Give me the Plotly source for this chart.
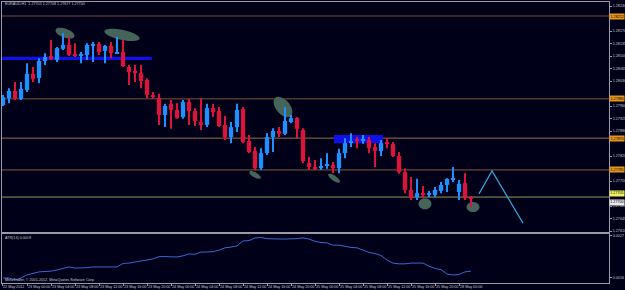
import math
import plotly.graph_objects as go

SYMBOL = "EURAUD,H1"

opens = [1.27963, 1.27982, 1.28002, 1.27980, 1.28005, 1.28050, 1.28038, 1.28086, 1.28100, 1.28089,
         1.28120, 1.28131, 1.28106, 1.28100, 1.28103, 1.28128, 1.28134, 1.28114, 1.28128, 1.28108,
         1.28111, 1.28069, 1.28058, 1.28052, 1.28033, 1.27991, 1.27982, 1.27935, 1.27966, 1.27949,
         1.27929, 1.27971, 1.27946, 1.27915, 1.27907, 1.27954, 1.27946, 1.27907, 1.27873, 1.27901,
         1.27952, 1.27862, 1.27834, 1.27786, 1.27828, 1.27873, 1.27890, 1.27882, 1.27915, 1.27926,
         1.27893, 1.27800, 1.27789, 1.27786, 1.27792, 1.27795, 1.27786, 1.27828, 1.27859, 1.27865,
         1.27862, 1.27865, 1.27845, 1.27834, 1.27859, 1.27854, 1.27820, 1.27775, 1.27725, 1.27705,
         1.27714, 1.27711, 1.27711, 1.27722, 1.27739, 1.27753, 1.27719, 1.27744, 1.27705]
highs = [1.27991, 1.28010, 1.28027, 1.28027, 1.28080, 1.28069, 1.28094, 1.28108, 1.28145, 1.28125,
         1.28164, 1.28153, 1.28136, 1.28111, 1.28136, 1.28139, 1.28139, 1.28131, 1.28139, 1.28153,
         1.28145, 1.28075, 1.28075, 1.28075, 1.28038, 1.27999, 1.27994, 1.27966, 1.27977, 1.27968,
         1.27977, 1.27980, 1.27954, 1.27982, 1.27966, 1.27966, 1.27957, 1.27932, 1.27915, 1.27966,
         1.27957, 1.27879, 1.27845, 1.27842, 1.27884, 1.27898, 1.27901, 1.27957, 1.27935, 1.27929,
         1.27898, 1.27817, 1.27809, 1.27814, 1.27828, 1.27803, 1.27840, 1.27870, 1.27884, 1.27873,
         1.27879, 1.27873, 1.27856, 1.27865, 1.27870, 1.27859, 1.27831, 1.27786, 1.27761, 1.27756,
         1.27736, 1.27722, 1.27733, 1.27747, 1.27758, 1.27789, 1.27753, 1.27772, 1.27708]
lows = [1.27960, 1.27968, 1.27977, 1.27977, 1.27999, 1.28027, 1.28024, 1.28075, 1.28089, 1.28083,
        1.28117, 1.28100, 1.28097, 1.28080, 1.28089, 1.28083, 1.28103, 1.28080, 1.28094, 1.28106,
        1.28069, 1.28019, 1.28027, 1.28010, 1.27982, 1.27980, 1.27907, 1.27901, 1.27896, 1.27924,
        1.27924, 1.27907, 1.27904, 1.27893, 1.27901, 1.27929, 1.27901, 1.27865, 1.27856, 1.27887,
        1.27856, 1.27828, 1.27781, 1.27781, 1.27823, 1.27831, 1.27873, 1.27879, 1.27912, 1.27870,
        1.27800, 1.27781, 1.27781, 1.27781, 1.27784, 1.27772, 1.27772, 1.27814, 1.27845, 1.27842,
        1.27854, 1.27828, 1.27789, 1.27820, 1.27842, 1.27817, 1.27770, 1.27716, 1.27697, 1.27697,
        1.27702, 1.27705, 1.27705, 1.27716, 1.27719, 1.27747, 1.27697, 1.27697, 1.27677]
closes = [1.27985, 1.28002, 1.27980, 1.28008, 1.28050, 1.28036, 1.28086, 1.28097, 1.28092, 1.28122,
          1.28131, 1.28103, 1.28100, 1.28106, 1.28131, 1.28134, 1.28111, 1.28128, 1.28108, 1.28111,
          1.28072, 1.28055, 1.28052, 1.28030, 1.27991, 1.27985, 1.27935, 1.27960, 1.27949, 1.27926,
          1.27971, 1.27946, 1.27918, 1.27907, 1.27954, 1.27943, 1.27904, 1.27873, 1.27901, 1.27949,
          1.27859, 1.27831, 1.27786, 1.27828, 1.27873, 1.27890, 1.27882, 1.27918, 1.27926, 1.27896,
          1.27806, 1.27789, 1.27786, 1.27792, 1.27795, 1.27786, 1.27828, 1.27856, 1.27862, 1.27862,
          1.27868, 1.27842, 1.27834, 1.27856, 1.27854, 1.27820, 1.27775, 1.27725, 1.27702, 1.27716,
          1.27711, 1.27716, 1.27725, 1.27739, 1.27756, 1.27758, 1.27742, 1.27702, 1.27700]
atr = [0.00160, 0.00160, 0.00155, 0.00160, 0.00168, 0.00173, 0.00176, 0.00177, 0.00178, 0.00181,
       0.00186, 0.00189, 0.00186, 0.00186, 0.00187, 0.00189, 0.00189, 0.00189, 0.00189, 0.00189,
       0.00198, 0.00199, 0.00202, 0.00204, 0.00207, 0.00210, 0.00216, 0.00216, 0.00216, 0.00215,
       0.00218, 0.00223, 0.00222, 0.00228, 0.00228, 0.00229, 0.00233, 0.00239, 0.00241, 0.00244,
       0.00257, 0.00258, 0.00265, 0.00266, 0.00263, 0.00262, 0.00262, 0.00262, 0.00262, 0.00263,
       0.00265, 0.00262, 0.00256, 0.00253, 0.00252, 0.00246, 0.00246, 0.00242, 0.00240, 0.00239,
       0.00233, 0.00227, 0.00224, 0.00219, 0.00207, 0.00199, 0.00197, 0.00197, 0.00199, 0.00199,
       0.00199, 0.00191, 0.00185, 0.00182, 0.00170, 0.00168, 0.00169, 0.00176, 0.00178]

time_tick_pos = [-0.17, 4, 8, 12, 16, 20, 24, 28, 32, 36, 40, 44, 48, 52, 56, 60, 64, 68, 72, 76]
time_tick_text = ["22 May 2012", "23 May 00:00", "23 May 04:00", "23 May 08:00", "23 May 12:00",
                  "23 May 16:00", "23 May 20:00", "24 May 00:00", "24 May 04:00", "24 May 08:00",
                  "24 May 12:00", "24 May 16:00", "24 May 20:00", "25 May 00:00", "25 May 04:00",
                  "25 May 08:00", "25 May 12:00", "25 May 16:00", "25 May 20:00", "28 May 00:00"]
price_ticks = [1.28240, 1.28205, 1.28170, 1.28135, 1.28100, 1.28065, 1.28030, 1.27995, 1.27960,
               1.27925, 1.27890, 1.27855, 1.27820, 1.27785, 1.27750, 1.27715, 1.27680, 1.27645, 1.27610]
atr_ticks = [0.0016, 0.0027]

hline_levels = [1.28212, 1.27980, 1.27870, 1.27781]
user_line_level = 1.27705
zigzag_bar = [79.33, 81.5, 86.67]
zigzag_price = [1.27714, 1.27778, 1.27632]
rect_bars = [(-0.3, 24.8), (55.17, 63.33)]
rect_prices = [(1.28089, 1.28098), (1.27856, 1.27879)]
ellipse_centers = [(10.33, 1.28164), (19.83, 1.28159), (46.67, 1.27957), (42.0, 1.27767),
                   (55.17, 1.27758), (70.33, 1.27686), (78.33, 1.27677)]

# ---- styling / geometry ----
W, H = 625, 290
ML, MR, MT, MB = 2, 16, 2, 7
X_RANGE = [-0.17, 101.0]
Y_RANGE = [1.276072, 1.282512]
A_RANGE = [0.001469, 0.002752]
MAIN_DOM = [0.1815, 1.0]
IND_DOM = [0.0, 0.1744]
BG = "#000018"
BULL, BEAR = "#1e90ff", "#dc143c"
TXT = "#c8c8cc"
FONT = "Liberation Sans"
FS = 3.7

plot_w = W - ML - MR
plot_h = H - MT - MB
px_per_bar = plot_w / (X_RANGE[1] - X_RANGE[0])
price_per_px = (Y_RANGE[1] - Y_RANGE[0]) / (plot_h * (MAIN_DOM[1] - MAIN_DOM[0]))

ellipse_shapes_px = [(10, 4.5, 20), (18, 5, 12), (12, 7, 50), (6.5, 2.5, 30),
                     (7, 2.5, 35), (6.5, 5.5, 0), (6.5, 5, 0)]

# hide axis labels that would sit under the price-level boxes (as the terminal does)
boxed = hline_levels + [user_line_level, closes[-1]]
shown_ticks = [t for t in price_ticks
               if all(abs(t - b) / price_per_px > 5.5 for b in boxed)]

idx = list(range(len(opens)))
cols = [BULL if c >= o else BEAR for o, c in zip(opens, closes)]

fig = go.Figure()
fig.add_trace(go.Bar(x=idx, y=[h - l for h, l in zip(highs, lows)], base=lows, width=0.17,
                     marker=dict(color=cols, line=dict(width=0)), xaxis="x", yaxis="y",
                     hoverinfo="skip"))
fig.add_trace(go.Bar(x=idx, y=[c - o for o, c in zip(opens, closes)], base=opens, width=0.72,
                     marker=dict(color=cols, line=dict(width=0)), xaxis="x", yaxis="y",
                     hoverinfo="skip"))
fig.add_trace(go.Scatter(x=zigzag_bar, y=zigzag_price, mode="lines", xaxis="x", yaxis="y",
                         line=dict(color="#3aa8e0", width=1.2), hoverinfo="skip"))
fig.add_trace(go.Scatter(x=idx, y=atr, mode="lines", xaxis="x2", yaxis="y2",
                         line=dict(color="#3a68d0", width=1), hoverinfo="skip"))

shapes = []
for (x0, x1), (y0, y1) in zip(rect_bars, rect_prices):
    shapes.append(dict(type="rect", xref="x", yref="y", x0=x0, x1=x1, y0=y0, y1=y1,
                       fillcolor="#1010e8", line=dict(width=0), layer="below"))


def ellipse_path(cx, cy, a, b, ang, n=48):
    phi = math.radians(ang)
    pts = []
    for i in range(n):
        t = 2 * math.pi * i / n
        dx = a * math.cos(t) * math.cos(phi) - b * math.sin(t) * math.sin(phi)
        dy = a * math.cos(t) * math.sin(phi) + b * math.sin(t) * math.cos(phi)
        pts.append((cx + dx / px_per_bar, cy - dy * price_per_px))
    return "M " + " L ".join(f"{x:.4f},{y:.7f}" for x, y in pts) + " Z"


for (cx, cy), (a, b, ang) in zip(ellipse_centers, ellipse_shapes_px):
    shapes.append(dict(type="path", xref="x", yref="y", path=ellipse_path(cx, cy, a, b, ang),
                       fillcolor="#45645a", line=dict(width=0), layer="below"))

hcols = ["#7c4a3e", "#7e543c", "#94704c", "#8a5a3c"]
for lv, c in zip(hline_levels, hcols):
    shapes.append(dict(type="line", xref="paper", yref="y", x0=0, x1=1, y0=lv, y1=lv,
                       line=dict(color=c, width=1), layer="below"))
shapes.append(dict(type="line", xref="paper", yref="y", x0=0, x1=1, y0=user_line_level,
                   y1=user_line_level, line=dict(color="#98985a", width=1), layer="below"))

annotations = []
for lv in hline_levels:
    annotations.append(dict(x=1.0, xref="paper", xanchor="left", y=lv, yref="y", yanchor="middle",
                            text=f"{lv:.5f}", showarrow=False, bgcolor="#e8951e", borderpad=0.5,
                            font=dict(family=FONT, size=FS, color="#000000")))
annotations.append(dict(x=1.0, xref="paper", xanchor="left", y=user_line_level, yref="y",
                        yanchor="bottom", text=f"{user_line_level:.5f}", showarrow=False,
                        bgcolor="#f0f060", borderpad=0.3,
                        font=dict(family=FONT, size=FS, color="#000000")))
annotations.append(dict(x=1.0, xref="paper", xanchor="left", y=closes[-1], yref="y",
                        yanchor="top", text=f"{closes[-1]:.5f}", showarrow=False,
                        bgcolor="#e8e8e8", borderpad=0.3,
                        font=dict(family=FONT, size=FS, color="#000000")))
annotations.append(dict(x=0.002, xref="paper", xanchor="left", y=(H - MB - 4) / plot_h,
                        yref="paper", yanchor="middle", showarrow=False,
                        text=f"{SYMBOL}  {opens[-1]:.5f} {highs[-1]:.5f} {lows[-1]:.5f} {closes[-1]:.5f}",
                        font=dict(family=FONT, size=FS, color=TXT)))
annotations.append(dict(x=0.002, xref="paper", xanchor="left", y=(H - MB - 238) / plot_h,
                        yref="paper", yanchor="middle", showarrow=False,
                        text=f"ATR(14) {atr[-1]:.4f}",
                        font=dict(family=FONT, size=FS, color=TXT)))
annotations.append(dict(x=0.002, xref="paper", xanchor="left", y=(H - MB - 280) / plot_h,
                        yref="paper", yanchor="middle", showarrow=False,
                        text="MetaTrader, © 2001-2012, MetaQuotes Software Corp.",
                        font=dict(family=FONT, size=FS, color=TXT)))

axis_common = dict(showgrid=False, zeroline=False, showline=True, linecolor="#9a9aa8",
                   linewidth=1, mirror=True, automargin=False)
fig.update_layout(
    width=W, height=H, margin=dict(l=ML, r=MR, t=MT, b=MB, autoexpand=False),
    paper_bgcolor=BG, plot_bgcolor=BG, barmode="overlay", showlegend=False,
    xaxis=dict(domain=[0, 1], range=X_RANGE, anchor="y", showticklabels=False, ticks="",
               **axis_common),
    xaxis2=dict(domain=[0, 1], range=X_RANGE, anchor="y2", matches="x",
                tickvals=time_tick_pos, ticktext=time_tick_text, ticks="outside", ticklen=2,
                tickcolor="#9a9aa8", ticklabelposition="outside right", tickangle=0,
                tickfont=dict(family=FONT, size=FS, color=TXT), **axis_common),
    yaxis=dict(domain=MAIN_DOM, range=Y_RANGE, side="right", anchor="x", tickvals=shown_ticks,
               tickformat=".5f", ticks="outside", ticklen=2, tickcolor="#9a9aa8",
               tickfont=dict(family=FONT, size=FS, color=TXT), **axis_common),
    yaxis2=dict(domain=IND_DOM, range=A_RANGE, side="right", anchor="x2", tickvals=atr_ticks,
                tickformat=".4f", ticks="outside", ticklen=2, tickcolor="#9a9aa8",
                tickfont=dict(family=FONT, size=FS, color=TXT), **axis_common),
    shapes=shapes, annotations=annotations,
)

fig.write_html("out.html")
